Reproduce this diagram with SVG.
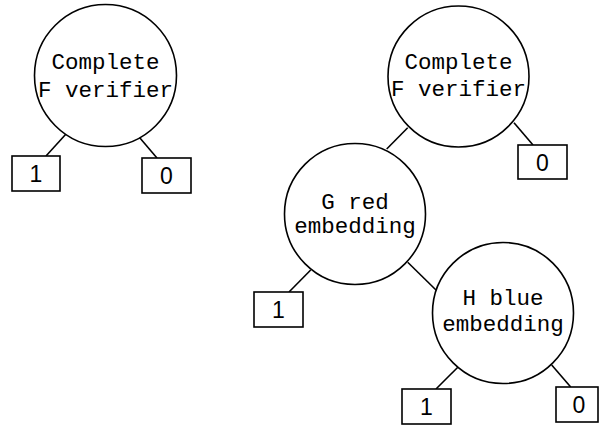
<svg xmlns="http://www.w3.org/2000/svg" width="599" height="425" viewBox="0 0 599 425">
<style>
.c{fill:#fff;stroke:#000;stroke-width:1.6}
.b{fill:#fff;stroke:#000;stroke-width:1.6}
.t{font-family:"Liberation Mono","Courier New",monospace;font-size:22.5px;text-anchor:middle;fill:#000}
.d{font-family:"Liberation Sans",Arial,sans-serif;font-size:23px;text-anchor:middle;fill:#000}
.e{stroke:#000;stroke-width:1.6;fill:none}
</style>
<rect width="599" height="425" fill="#fff"/>
<g id="connectors">
<line class="e" x1="66.7" y1="133.3" x2="46" y2="156"/>
<line class="e" x1="139.3" y1="137.3" x2="157" y2="158"/>
<line class="e" x1="407.7" y1="127.7" x2="386.7" y2="149"/>
<line class="e" x1="514" y1="122.7" x2="533" y2="145"/>
<line class="e" x1="407.7" y1="262.3" x2="436" y2="290"/>
<line class="e" x1="310.7" y1="270" x2="289" y2="292"/>
<line class="e" x1="458.3" y1="366.7" x2="436" y2="389"/>
<line class="e" x1="551.7" y1="365" x2="570.7" y2="387"/>
</g>
<g id="f1">
<circle class="c" cx="105.5" cy="75.5" r="71"/>
<text class="t" x="105.5" y="69">Complete</text>
<text class="t" x="105.5" y="96.5">F verifier</text>
</g>
<g id="f1-one">
<rect class="b" x="12" y="156" width="48" height="35"/>
<text class="d" x="36" y="182">1</text>
</g>
<g id="f1-zero">
<rect class="b" x="142" y="158" width="49" height="35"/>
<text class="d" x="166.5" y="184">0</text>
</g>
<g id="f2">
<circle class="c" cx="458.5" cy="76.5" r="70.5"/>
<text class="t" x="458.5" y="69">Complete</text>
<text class="t" x="458.5" y="96">F verifier</text>
</g>
<g id="f2-zero">
<rect class="b" x="518" y="145" width="49" height="34"/>
<text class="d" x="542.5" y="170.5">0</text>
</g>
<g id="g">
<circle class="c" cx="355" cy="214" r="70.5"/>
<text class="t" x="355" y="208.5">G red</text>
<text class="t" x="355" y="233">embedding</text>
</g>
<g id="g-one">
<rect class="b" x="254" y="292" width="49" height="35"/>
<text class="d" x="278.5" y="318">1</text>
</g>
<g id="h">
<circle class="c" cx="503" cy="313" r="70.5"/>
<text class="t" x="503" y="305">H blue</text>
<text class="t" x="503" y="330.5">embedding</text>
</g>
<g id="h-one">
<rect class="b" x="402" y="389" width="49" height="35"/>
<text class="d" x="426.5" y="415">1</text>
</g>
<g id="h-zero">
<rect class="b" x="556" y="387" width="42" height="35"/>
<text class="d" x="579" y="413">0</text>
</g>
</svg>
